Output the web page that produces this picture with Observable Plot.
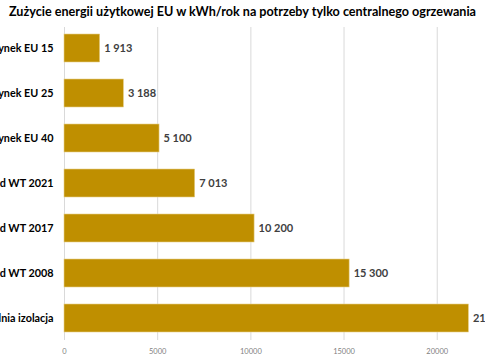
<!DOCTYPE html>
<html>
<head>
<meta charset="utf-8">
<script src="https://cdn.jsdelivr.net/npm/d3@7"></script>
<script src="https://cdn.jsdelivr.net/npm/@observablehq/plot@0.6"></script>
<style>
  html, body { margin: 0; padding: 0; background: #fff; overflow: hidden; }
  #title { height: 24px; line-height: 24px; text-align: center; font-family: Lato, sans-serif; font-weight: bold; font-size: 12.6px; color: #000; white-space: nowrap; }
  #chart svg { overflow: visible; display: block; }
</style>
</head>
<body>
<div id="title">Zużycie energii użytkowej EU w kWh/rok na potrzeby tylko centralnego ogrzewania</div>
<div id="chart"></div>
<script>
const categories = ["Rynek EU 15", "Rynek EU 25", "Rynek EU 40", "Standard WT 2021", "Standard WT 2017", "Standard WT 2008", "Średnia izolacja"];
const values = [1913, 3188, 5100, 7013, 10200, 15300, 21700];
const xTicks = [0, 5000, 10000, 15000, 20000];

const data = categories.map((c, i) => ({category: c, value: values[i]}));
const fmt = v => d3.format(",")(v).replace(/,/g, " ");

const chart = Plot.plot({
  width: 485,
  height: 336,
  marginLeft: 64,
  marginRight: 11,
  marginTop: 3,
  marginBottom: 20,
  style: {fontFamily: "Lato, sans-serif", background: "#fff", overflow: "visible"},
  x: {domain: [0, 22000], ticks: xTicks, label: null},
  y: {domain: categories, paddingInner: 0.377, paddingOuter: 0.16, label: null},
  marks: [
    Plot.gridX(xTicks, {stroke: "#d9d9d9", strokeOpacity: 1, strokeWidth: 1}),
    Plot.barX(data, {x: "value", y: "category", fill: "#BF8F00", stroke: "#e6cf8a", strokeWidth: 0.6}),
    Plot.text(data, {x: "value", y: "category", text: d => fmt(d.value), textAnchor: "start", dx: 4, fill: "#404040", fontWeight: "bold", fontSize: 11}),
    Plot.axisX({ticks: xTicks, tickSize: 0, tickPadding: 8, tickFormat: d => String(d), fontSize: 7.5, color: "#7f7f7f"}),
    Plot.axisY({tickSize: 0, tickPadding: 11, fontSize: 10.8, fontWeight: "bold", color: "#000"})
  ]
});
document.getElementById("chart").appendChild(chart);
</script>
</body>
</html>
